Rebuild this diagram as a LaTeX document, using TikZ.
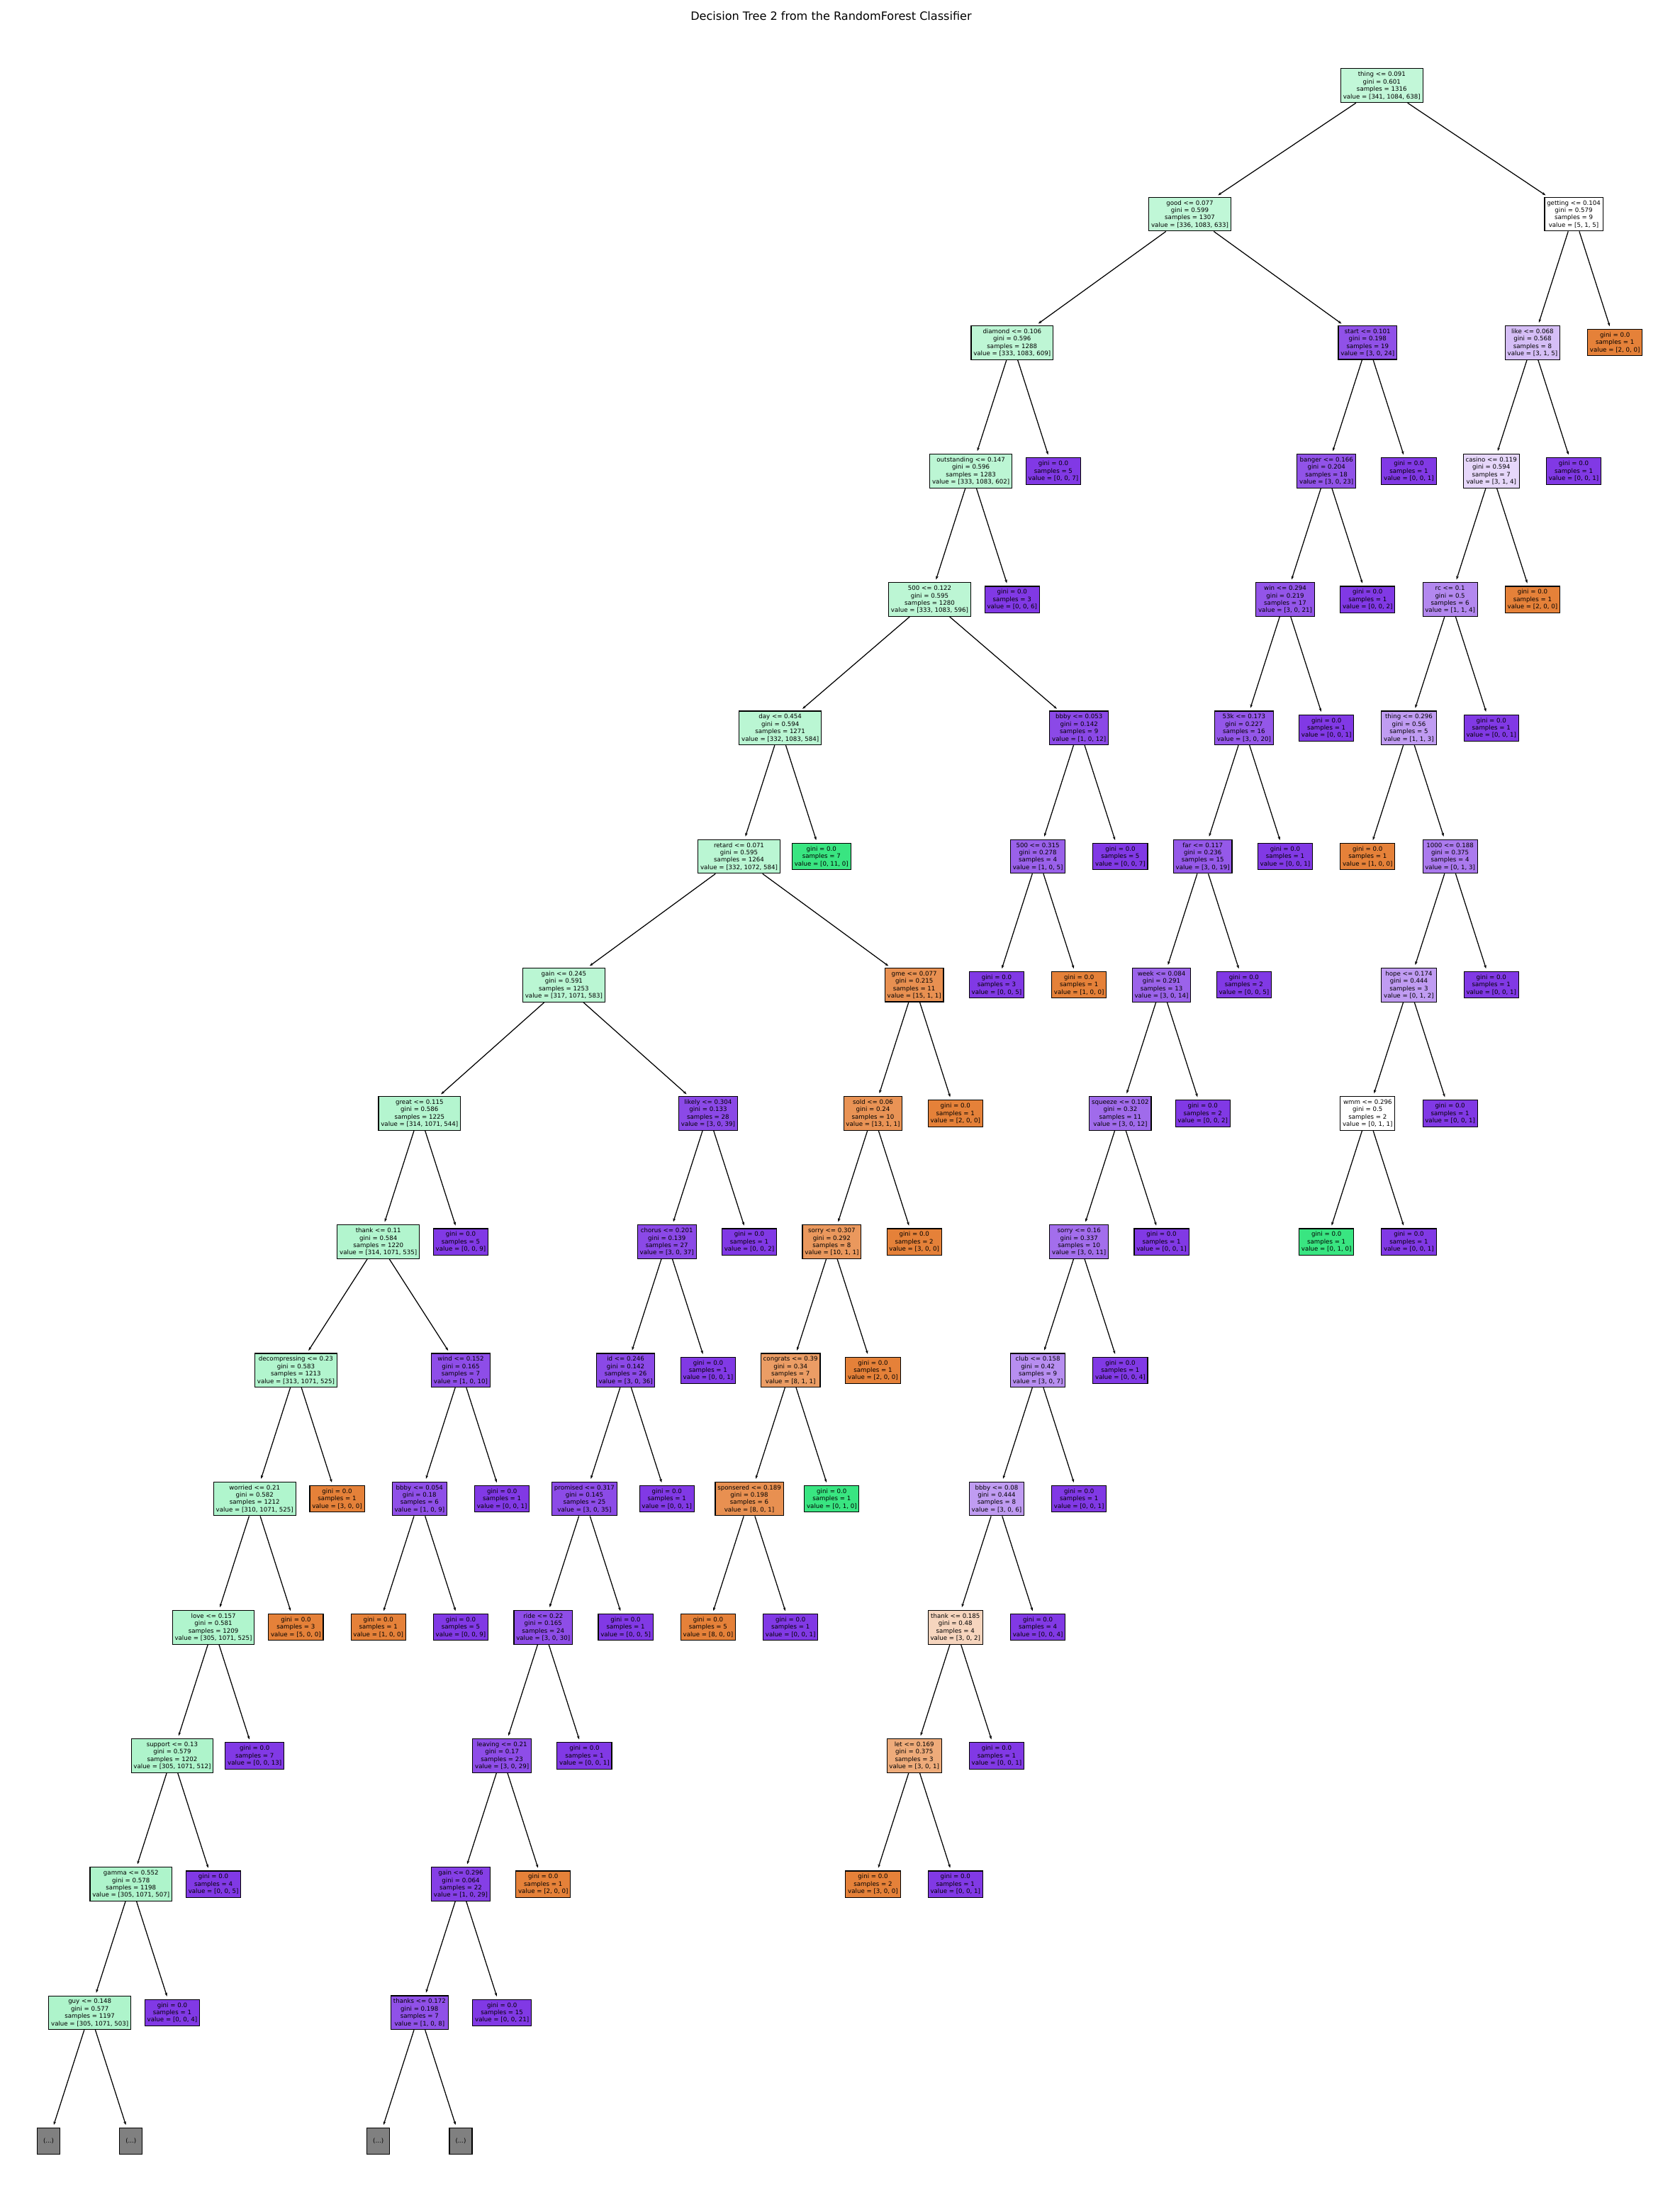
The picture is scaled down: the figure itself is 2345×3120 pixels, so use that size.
\documentclass[tikz,border=0pt]{standalone}
\usepackage{fontspec}
\setmainfont{DejaVu Sans}
\usetikzlibrary{arrows.meta}

% class colours (orange, green, purple) and the colour of truncated branches
\definecolor{clsA}{RGB}{229,129,57}
\definecolor{clsB}{RGB}{57,229,129}
\definecolor{clsC}{RGB}{129,57,229}
\definecolor{truncgray}{RGB}{128,128,128}

\tikzset{
  % fill = majority class colour, faded towards white by node purity
  cls/.code n args={3}{%
    \def\clsname{clsA}\def\bestv{#1}%
    \ifdim #2pt>\bestv pt\relax \def\clsname{clsB}\def\bestv{#2}\fi
    \ifdim #3pt>\bestv pt\relax \def\clsname{clsC}\fi
    \pgfmathsetmacro\vmx{max(#1,#2,#3)}%
    \pgfmathsetmacro\vmn{min(#1,#2,#3)}%
    \pgfmathsetmacro\vsec{#1+#2+#3-\vmx-\vmn}%
    \pgfmathtruncatemacro\alphapc{round((\vmx-\vsec)/(#1+#2+#3-\vsec)*100)}%
    \edef\tmp{\noexpand\pgfkeysalso{fill=\clsname!\alphapc!white}}\tmp
  },
  treebox/.style={draw=black, line width=1.1pt, align=center,
    inner xsep=3.3pt, inner ysep=4.4pt, text=black,
    font=\fontsize{8.64}{10.4}\selectfont},
  morebox/.style={draw=black, line width=1.1pt, fill=truncgray,
    minimum width=32pt, minimum height=37pt, inner sep=0pt,
    font=\fontsize{8.64}{10.4}\selectfont},
  link/.style={draw=black, line width=1.25pt,
    -{Stealth[length=5pt,width=3.6pt]}, shorten >=4pt},
}

% #1 name, #2 column, #3 depth, #4 test, #5 gini, #6 samples, #7-#9 class counts
\newcommand\splitnode[9]{%
  \node[treebox, cls={#7}{#8}{#9}] (#1) at ({68.5+58.15*(#2)},{120.8+181.2*(#3)})
    {#4\\gini = #5\\samples = #6\\value = [#7, #8, #9]};}
% #1 name, #2 column, #3 depth, #4 samples, #5-#7 class counts
\newcommand\leafnode[7]{%
  \node[treebox, cls={#5}{#6}{#7}] (#1) at ({68.5+58.15*(#2)},{120.8+181.2*(#3)})
    {gini = 0.0\\samples = #4\\value = [#5, #6, #7]};}
\newcommand\morenode[3]{%
  \node[morebox] (#1) at ({68.5+58.15*(#2)},{120.8+181.2*(#3)}) {(...)};}
\newcommand\kids[3]{\draw[link] (#1) -- (#2); \draw[link] (#1) -- (#3);}

\begin{document}
\begin{tikzpicture}[x=1pt,y=-1pt]
\useasboundingbox (0,0) rectangle (2345,3120);

\node[font=\fontsize{16.1}{19}\selectfont, anchor=base] (title) at (1172.5,29)
  {Decision Tree 2 from the RandomForest Classifier};

% depth 0-1
\splitnode{root}{32.34375}{0}{thing <= 0.091}{0.601}{1316}{341}{1084}{638}
\splitnode{good}{27.6875}{1}{good <= 0.077}{0.599}{1307}{336}{1083}{633}
\splitnode{getting}{37}{1}{getting <= 0.104}{0.579}{9}{5}{1}{5}
% depth 2
\splitnode{diamond}{23.375}{2}{diamond <= 0.106}{0.596}{1288}{333}{1083}{609}
\splitnode{start}{32}{2}{start <= 0.101}{0.198}{19}{3}{0}{24}
\splitnode{like}{36}{2}{like <= 0.068}{0.568}{8}{3}{1}{5}
\leafnode{lfBa}{38}{2}{1}{2}{0}{0}
% depth 3
\splitnode{outstanding}{22.375}{3}{outstanding <= 0.147}{0.596}{1283}{333}{1083}{602}
\leafnode{lfCa}{24.375}{3}{5}{0}{0}{7}
\splitnode{banger}{31}{3}{banger <= 0.166}{0.204}{18}{3}{0}{23}
\leafnode{lfCb}{33}{3}{1}{0}{0}{1}
\splitnode{casino}{35}{3}{casino <= 0.119}{0.594}{7}{3}{1}{4}
\leafnode{lfCc}{37}{3}{1}{0}{0}{1}
% depth 4
\splitnode{fiveA}{21.375}{4}{500 <= 0.122}{0.595}{1280}{333}{1083}{596}
\leafnode{lfDa}{23.375}{4}{3}{0}{0}{6}
\splitnode{win}{30}{4}{win <= 0.294}{0.219}{17}{3}{0}{21}
\leafnode{lfDb}{32}{4}{1}{0}{0}{2}
\splitnode{rc}{34}{4}{rc <= 0.1}{0.5}{6}{1}{1}{4}
\leafnode{lfDc}{36}{4}{1}{2}{0}{0}
% depth 5
\splitnode{day}{17.75}{5}{day <= 0.454}{0.594}{1271}{332}{1083}{584}
\splitnode{bbbyA}{25}{5}{bbby <= 0.053}{0.142}{9}{1}{0}{12}
\splitnode{fiftythreek}{29}{5}{53k <= 0.173}{0.227}{16}{3}{0}{20}
\leafnode{lfEa}{31}{5}{1}{0}{0}{1}
\splitnode{thingB}{33}{5}{thing <= 0.296}{0.56}{5}{1}{1}{3}
\leafnode{lfEb}{35}{5}{1}{0}{0}{1}
% depth 6
\splitnode{retard}{16.75}{6}{retard <= 0.071}{0.595}{1264}{332}{1072}{584}
\leafnode{lfFa}{18.75}{6}{7}{0}{11}{0}
\splitnode{fiveB}{24}{6}{500 <= 0.315}{0.278}{4}{1}{0}{5}
\leafnode{lfFb}{26}{6}{5}{0}{0}{7}
\splitnode{far}{28}{6}{far <= 0.117}{0.236}{15}{3}{0}{19}
\leafnode{lfFc}{30}{6}{1}{0}{0}{1}
\leafnode{lfFd}{32}{6}{1}{1}{0}{0}
\splitnode{thousand}{34}{6}{1000 <= 0.188}{0.375}{4}{0}{1}{3}
% depth 7
\splitnode{gainA}{12.5}{7}{gain <= 0.245}{0.591}{1253}{317}{1071}{583}
\splitnode{gme}{21}{7}{gme <= 0.077}{0.215}{11}{15}{1}{1}
\leafnode{lfGa}{23}{7}{3}{0}{0}{5}
\leafnode{lfGb}{25}{7}{1}{1}{0}{0}
\splitnode{week}{27}{7}{week <= 0.084}{0.291}{13}{3}{0}{14}
\leafnode{lfGc}{29}{7}{2}{0}{0}{5}
\splitnode{hope}{33}{7}{hope <= 0.174}{0.444}{3}{0}{1}{2}
\leafnode{lfGd}{35}{7}{1}{0}{0}{1}
% depth 8
\splitnode{great}{9}{8}{great <= 0.115}{0.586}{1225}{314}{1071}{544}
\splitnode{likely}{16}{8}{likely <= 0.304}{0.133}{28}{3}{0}{39}
\splitnode{sold}{20}{8}{sold <= 0.06}{0.24}{10}{13}{1}{1}
\leafnode{lfHa}{22}{8}{1}{2}{0}{0}
\splitnode{squeeze}{26}{8}{squeeze <= 0.102}{0.32}{11}{3}{0}{12}
\leafnode{lfHb}{28}{8}{2}{0}{0}{2}
\splitnode{wmm}{32}{8}{wmm <= 0.296}{0.5}{2}{0}{1}{1}
\leafnode{lfHc}{34}{8}{1}{0}{0}{1}
% depth 9
\splitnode{thankA}{8}{9}{thank <= 0.11}{0.584}{1220}{314}{1071}{535}
\leafnode{lfIa}{10}{9}{5}{0}{0}{9}
\splitnode{chorus}{15}{9}{chorus <= 0.201}{0.139}{27}{3}{0}{37}
\leafnode{lfIb}{17}{9}{1}{0}{0}{2}
\splitnode{sorryA}{19}{9}{sorry <= 0.307}{0.292}{8}{10}{1}{1}
\leafnode{lfIc}{21}{9}{2}{3}{0}{0}
\splitnode{sorryB}{25}{9}{sorry <= 0.16}{0.337}{10}{3}{0}{11}
\leafnode{lfId}{27}{9}{1}{0}{0}{1}
\leafnode{lfIe}{31}{9}{1}{0}{1}{0}
\leafnode{lfIf}{33}{9}{1}{0}{0}{1}
% depth 10
\splitnode{decompressing}{6}{10}{decompressing <= 0.23}{0.583}{1213}{313}{1071}{525}
\splitnode{wind}{10}{10}{wind <= 0.152}{0.165}{7}{1}{0}{10}
\splitnode{id}{14}{10}{id <= 0.246}{0.142}{26}{3}{0}{36}
\leafnode{lfJa}{16}{10}{1}{0}{0}{1}
\splitnode{congrats}{18}{10}{congrats <= 0.39}{0.34}{7}{8}{1}{1}
\leafnode{lfJb}{20}{10}{1}{2}{0}{0}
\splitnode{club}{24}{10}{club <= 0.158}{0.42}{9}{3}{0}{7}
\leafnode{lfJc}{26}{10}{1}{0}{0}{4}
% depth 11
\splitnode{worried}{5}{11}{worried <= 0.21}{0.582}{1212}{310}{1071}{525}
\leafnode{lfKa}{7}{11}{1}{3}{0}{0}
\splitnode{bbbyB}{9}{11}{bbby <= 0.054}{0.18}{6}{1}{0}{9}
\leafnode{lfKb}{11}{11}{1}{0}{0}{1}
\splitnode{promised}{13}{11}{promised <= 0.317}{0.145}{25}{3}{0}{35}
\leafnode{lfKc}{15}{11}{1}{0}{0}{1}
\splitnode{sponsered}{17}{11}{sponsered <= 0.189}{0.198}{6}{8}{0}{1}
\leafnode{lfKd}{19}{11}{1}{0}{1}{0}
\splitnode{bbbyC}{23}{11}{bbby <= 0.08}{0.444}{8}{3}{0}{6}
\leafnode{lfKe}{25}{11}{1}{0}{0}{1}
% depth 12
\splitnode{love}{4}{12}{love <= 0.157}{0.581}{1209}{305}{1071}{525}
\leafnode{lfLa}{6}{12}{3}{5}{0}{0}
\leafnode{lfLb}{8}{12}{1}{1}{0}{0}
\leafnode{lfLc}{10}{12}{5}{0}{0}{9}
\splitnode{ride}{12}{12}{ride <= 0.22}{0.165}{24}{3}{0}{30}
\leafnode{lfLd}{14}{12}{1}{0}{0}{5}
\leafnode{lfLe}{16}{12}{5}{8}{0}{0}
\leafnode{lfLf}{18}{12}{1}{0}{0}{1}
\splitnode{thankB}{22}{12}{thank <= 0.185}{0.48}{4}{3}{0}{2}
\leafnode{lfLg}{24}{12}{4}{0}{0}{4}
% depth 13
\splitnode{support}{3}{13}{support <= 0.13}{0.579}{1202}{305}{1071}{512}
\leafnode{lfMa}{5}{13}{7}{0}{0}{13}
\splitnode{leaving}{11}{13}{leaving <= 0.21}{0.17}{23}{3}{0}{29}
\leafnode{lfMb}{13}{13}{1}{0}{0}{1}
\splitnode{let}{21}{13}{let <= 0.169}{0.375}{3}{3}{0}{1}
\leafnode{lfMc}{23}{13}{1}{0}{0}{1}
% depth 14
\splitnode{gamma}{2}{14}{gamma <= 0.552}{0.578}{1198}{305}{1071}{507}
\leafnode{lfNa}{4}{14}{4}{0}{0}{5}
\splitnode{gainB}{10}{14}{gain <= 0.296}{0.064}{22}{1}{0}{29}
\leafnode{lfNb}{12}{14}{1}{2}{0}{0}
\leafnode{lfNc}{20}{14}{2}{3}{0}{0}
\leafnode{lfNd}{22}{14}{1}{0}{0}{1}
% depth 15
\splitnode{guy}{1}{15}{guy <= 0.148}{0.577}{1197}{305}{1071}{503}
\leafnode{lfOa}{3}{15}{1}{0}{0}{4}
\splitnode{thanks}{9}{15}{thanks <= 0.172}{0.198}{7}{1}{0}{8}
\leafnode{lfOb}{11}{15}{15}{0}{0}{21}
% depth 16: truncated branches
\morenode{moreA}{0}{16}
\morenode{moreB}{2}{16}
\morenode{moreC}{8}{16}
\morenode{moreD}{10}{16}

% parent -> children
\kids{root}{good}{getting}
\kids{good}{diamond}{start}
\kids{getting}{like}{lfBa}
\kids{diamond}{outstanding}{lfCa}
\kids{start}{banger}{lfCb}
\kids{like}{casino}{lfCc}
\kids{outstanding}{fiveA}{lfDa}
\kids{banger}{win}{lfDb}
\kids{casino}{rc}{lfDc}
\kids{fiveA}{day}{bbbyA}
\kids{win}{fiftythreek}{lfEa}
\kids{rc}{thingB}{lfEb}
\kids{day}{retard}{lfFa}
\kids{bbbyA}{fiveB}{lfFb}
\kids{fiftythreek}{far}{lfFc}
\kids{thingB}{lfFd}{thousand}
\kids{retard}{gainA}{gme}
\kids{fiveB}{lfGa}{lfGb}
\kids{far}{week}{lfGc}
\kids{thousand}{hope}{lfGd}
\kids{gainA}{great}{likely}
\kids{gme}{sold}{lfHa}
\kids{week}{squeeze}{lfHb}
\kids{hope}{wmm}{lfHc}
\kids{great}{thankA}{lfIa}
\kids{likely}{chorus}{lfIb}
\kids{sold}{sorryA}{lfIc}
\kids{squeeze}{sorryB}{lfId}
\kids{wmm}{lfIe}{lfIf}
\kids{thankA}{decompressing}{wind}
\kids{chorus}{id}{lfJa}
\kids{sorryA}{congrats}{lfJb}
\kids{sorryB}{club}{lfJc}
\kids{decompressing}{worried}{lfKa}
\kids{wind}{bbbyB}{lfKb}
\kids{id}{promised}{lfKc}
\kids{congrats}{sponsered}{lfKd}
\kids{club}{bbbyC}{lfKe}
\kids{worried}{love}{lfLa}
\kids{bbbyB}{lfLb}{lfLc}
\kids{promised}{ride}{lfLd}
\kids{sponsered}{lfLe}{lfLf}
\kids{bbbyC}{thankB}{lfLg}
\kids{love}{support}{lfMa}
\kids{ride}{leaving}{lfMb}
\kids{thankB}{let}{lfMc}
\kids{support}{gamma}{lfNa}
\kids{leaving}{gainB}{lfNb}
\kids{let}{lfNc}{lfNd}
\kids{gamma}{guy}{lfOa}
\kids{gainB}{thanks}{lfOb}
\kids{guy}{moreA}{moreB}
\kids{thanks}{moreC}{moreD}
\end{tikzpicture}
\end{document}
